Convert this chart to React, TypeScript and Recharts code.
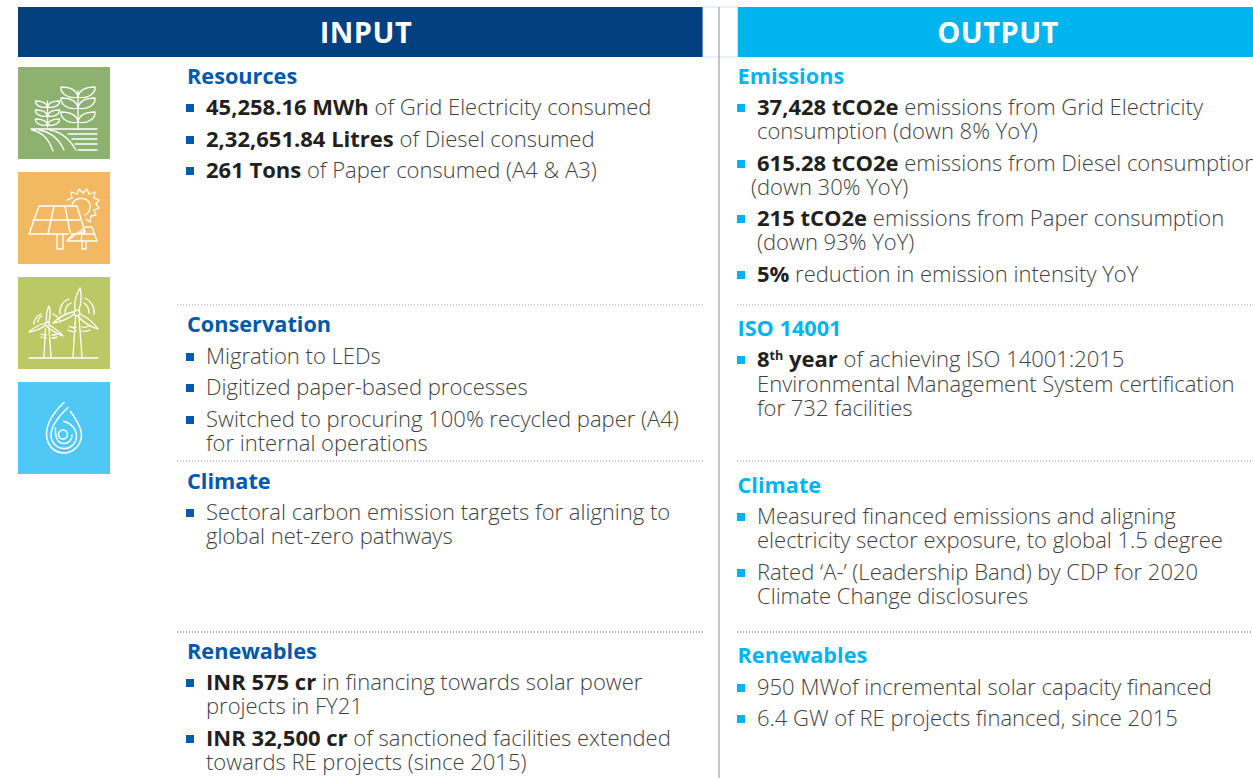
import React from "react";
import { ScatterChart, Scatter, XAxis, YAxis, ReferenceArea, ReferenceLine } from "recharts";

const FONT = "'Open Sans', sans-serif";
const NAVY = "#03407f";
const CYAN = "#00b5ef";
const BLUE = "#0059a9";
const BODY = "#3f3f3f";
const DARK = "#231f20";

const headerTitles = [
  { x: 366, y: 43, text: "INPUT" },
  { x: 998, y: 43, text: "OUTPUT" },
];
const headerBands = [
  { x1: 18, x2: 703, fill: NAVY },
  { x1: 737.5, x2: 1253, fill: CYAN },
];
const iconTiles = [
  { y: 67, kind: "wheat", fill: "#8db16f" },
  { y: 172, kind: "solar", fill: "#f3b862" },
  { y: 277, kind: "wind", fill: "#bac966" },
  { y: 382, kind: "water", fill: "#4fc8f6" },
];
const dottedRules = [
  { x1: 177, x2: 703, y: 305, stroke: "#999" },
  { x1: 737, x2: 1253, y: 305, stroke: "#999" },
  { x1: 177, x2: 703, y: 461, stroke: "#888" },
  { x1: 737, x2: 1253, y: 461, stroke: "#888" },
  { x1: 177, x2: 703, y: 632, stroke: "#555" },
  { x1: 737, x2: 1253, y: 632, stroke: "#555" },
];
const leftHeadings = [
  { x: 187, y: 84, text: "Resources" },
  { x: 187, y: 332, text: "Conservation" },
  { x: 187, y: 489, text: "Climate" },
  { x: 187, y: 659, text: "Renewables" },
];
const rightHeadings = [
  { x: 737.5, y: 84, text: "Emissions" },
  { x: 737.5, y: 336, text: "ISO 14001" },
  { x: 737.5, y: 493, text: "Climate" },
  { x: 737.5, y: 663, text: "Renewables" },
];
type Row = { x: number; y: number; bold?: string; sup?: string; after?: string; rest?: string; bullet?: boolean };
const leftRows: Row[] = [
  { x: 206, y: 115, bold: "45,258.16 MWh", rest: " of Grid Electricity consumed", bullet: true },
  { x: 206, y: 147, bold: "2,32,651.84 Litres", rest: " of Diesel consumed", bullet: true },
  { x: 206, y: 178, bold: "261 Tons", rest: " of Paper consumed (A4 & A3)", bullet: true },
  { x: 206, y: 364, rest: "Migration to LEDs", bullet: true },
  { x: 206, y: 395, rest: "Digitized paper-based processes", bullet: true },
  { x: 206, y: 427, rest: "Switched to procuring 100% recycled paper (A4)", bullet: true },
  { x: 206, y: 451, rest: "for internal operations" },
  { x: 206, y: 520, rest: "Sectoral carbon emission targets for aligning to", bullet: true },
  { x: 206, y: 544, rest: "global net-zero pathways" },
  { x: 206, y: 690, bold: "INR 575 cr", rest: " in financing towards solar power", bullet: true },
  { x: 206, y: 714, rest: "projects in FY21" },
  { x: 206, y: 746, bold: "INR 32,500 cr", rest: " of sanctioned facilities extended", bullet: true },
  { x: 206, y: 770, rest: "towards RE projects (since 2015)" },
];
const rightRows: Row[] = [
  { x: 757, y: 115, bold: "37,428 tCO2e", rest: " emissions from Grid Electricity", bullet: true },
  { x: 757, y: 139, rest: "consumption (down 8% YoY)" },
  { x: 757, y: 171, bold: "615.28 tCO2e", rest: " emissions from Diesel consumption", bullet: true },
  { x: 751, y: 195, rest: "(down 30% YoY)" },
  { x: 757, y: 226, bold: "215 tCO2e", rest: " emissions from Paper consumption", bullet: true },
  { x: 757, y: 250, rest: "(down 93% YoY)" },
  { x: 757, y: 282, bold: "5%", rest: " reduction in emission intensity YoY", bullet: true },
  { x: 757, y: 367, bold: "8", sup: "th", after: " year", rest: " of achieving ISO 14001:2015", bullet: true },
  { x: 757, y: 392, rest: "Environmental Management System certification" },
  { x: 757, y: 416, rest: "for 732 facilities" },
  { x: 757, y: 524, rest: "Measured financed emissions and aligning", bullet: true },
  { x: 757, y: 548, rest: "electricity sector exposure, to global 1.5 degree" },
  { x: 757, y: 580, rest: "Rated ‘A-’ (Leadership Band) by CDP for 2020", bullet: true },
  { x: 757, y: 604, rest: "Climate Change disclosures" },
  { x: 757, y: 695, rest: "950 MWof incremental solar capacity financed", bullet: true },
  { x: 757, y: 726, rest: "6.4 GW of RE projects financed, since 2015", bullet: true },
];

const ink = { fill: "none", stroke: "#fff", strokeWidth: 1.3, strokeLinecap: "round" as const, strokeLinejoin: "round" as const };

function Leaf({ x, y, dx, dy }: { x: number; y: number; dx: number; dy: number }) {
  const d = `M${x} ${y}C${x + dx * 0.1} ${y - dy * 0.9} ${x + dx * 0.6} ${y - dy * 1.0} ${x + dx} ${y - dy}C${x + dx * 1.05} ${y - dy * 0.3} ${x + dx * 0.5} ${y + dy * 0.25} ${x} ${y}Z`;
  return <path d={d} {...ink} />;
}
function Plant({ x, top, bottom, w, h, rows }: { x: number; top: number; bottom: number; w: number; h: number; rows: number[] }) {
  return (
    <g>
      <path d={`M${x} ${top}V${bottom}`} {...ink} />
      {rows.map((r) => (
        <g key={r}>
          <Leaf x={x} y={r} dx={w} dy={h} />
          <Leaf x={x} y={r} dx={-w} dy={h} />
        </g>
      ))}
    </g>
  );
}
function Wheat() {
  return (
    <g>
      <Plant x={60} top={24} bottom={62} w={17} h={10} rows={[30, 41, 55]} />
      <Plant x={29.5} top={34} bottom={60} w={12} h={6} rows={[40, 49, 58]} />
      <path d="M13 62H79M50 67H79M54 72H79M57 77H79M60 83H79" {...ink} />
      <path d="M14 63C24 65 31 72 35 84M21 63C33 65 41 72 46 83M32 63C44 65 52 73 58 83" {...ink} />
    </g>
  );
}
function Solar() {
  return (
    <g>
      <path d="M49 28L54 26L53 20L59 22L61 17L65 21L69 17L71 22L77 20L76 26L81 28L78 32L81 36L76 38L78 43L73 44L72 50L68 47" {...ink} />
      <path d="M54 33C56 26 64 25 69 28C74 32 73 40 67 43" {...ink} />
      <path d="M11 62L21 34H59L67 60L56 62M15 48H62M36 34L30 62M47 34L52 60M11 62H50" {...ink} strokeWidth={1.5} />
      <path d="M39 62V77H45V62" {...ink} />
      <path d="M49 69L55 62M68 55H74L79 69H49ZM53 62H76M66 56V62M64 62L63 69M64 69V77M68 69V77H64" {...ink} />
    </g>
  );
}
function Wind() {
  return (
    <g>
      <path d="M11 81H80" {...ink} />
      <path d="M55 80L57.5 40M64 80L61 40" {...ink} />
      <circle cx={59} cy={36} r={2.8} {...ink} />
      <path d="M57 33C56 25 59 16 62 11C64 19 63 27 61 33" {...ink} />
      <path d="M56.5 37C50 42 43 45 35 46C41 40 49 36 56.5 34.5" {...ink} />
      <path d="M62 37C68 40 76 46 80 52C73 50 65 45 60 39" {...ink} />
      <path d="M42 37C41 30 45 24 51 22M47 36C47 31 49 28 53 26M76 37C77 30 73 24 67 21M71 36C71 31 69 28 66 26" {...ink} />
      <path d="M51 49C54 51 57 51 58 50M50 53C53 55 57 55 58 54M64 50C67 51 69 50 71 49M64 54C67 55 70 54 72 53" {...ink} />
      <path d="M26 80L27.5 51M33 80L31 51" {...ink} />
      <circle cx={29.5} cy={47} r={2} {...ink} />
      <path d="M28.5 45C28 39 29 33 31 29C33 34 32 40 31 45" {...ink} />
      <path d="M27.5 48C23 52 17 54 11 55C15 51 21 48 27.5 46" {...ink} />
      <path d="M31.5 48C36 51 42 55 45 59C40 57 34 54 29.5 50" {...ink} />
      <path d="M16 47C16 42 19 39 23 37M20 45C20 42 22 40 24 39M42 45C42 42 39 39 35 37" {...ink} />
      <path d="M23 57C26 58 28 58 28 58M23 60C26 61 28 61 28 61M34 58C36 58 38 58 39 57M34 61C36 61 38 61 39 60" {...ink} />
    </g>
  );
}
function Water() {
  return (
    <g>
      <path d="M52.5 29.5C58 37 63.5 46 63.5 53C63.5 63 55 71 46 71C36 71 28.5 63 28.5 52C28.5 41 36 30 46 20.5" {...ink} strokeWidth={1.5} />
      <path d="M50 25.5C41 34 33 44 33 53C33 61 39 66.5 46 66.5C53 66.5 58.5 61 58.5 54C58.5 47 53 41 46 39.5" {...ink} strokeWidth={1.5} />
      <path d="M37.5 46C37 52 38 61.5 46 61.5C51 61.5 54 57.5 54 53" {...ink} strokeWidth={1.5} />
      <circle cx={45} cy={52.5} r={4.5} {...ink} strokeWidth={1.5} />
    </g>
  );
}
const ICONS: Record<string, () => React.ReactElement> = { wheat: Wheat, solar: Solar, wind: Wind, water: Water };

const IconShape = (p: any) => {
  const Icon = ICONS[p.payload.kind];
  return (
    <g transform={`translate(${p.cx - 46},${p.cy - 46})`}>
      <Icon />
    </g>
  );
};
const headingShape = (color: string) => (p: any) => (
  <text x={p.cx} y={p.cy} fontFamily={FONT} fontWeight={700} fontSize={21.7} fill={color}>
    {p.payload.text}
  </text>
);
const TitleShape = (p: any) => (
  <text x={p.cx} y={p.cy} fontFamily={FONT} fontWeight={700} fontSize={29} letterSpacing={0.5} fill="#fff" textAnchor="middle">
    {p.payload.text}
  </text>
);
const rowShape = (color: string) => (p: any) => {
  const r: Row = p.payload;
  return (
    <g>
      {r.bullet && <rect x={p.cx - 20} y={p.cy - 11} width={8} height={8} fill={color} />}
      <text x={p.cx} y={p.cy} fontFamily={FONT} fontSize={22} fontWeight={300} fill={BODY} style={{ whiteSpace: "pre" }}>
        {r.bold && <tspan fontWeight={700} fill={DARK}>{r.bold}</tspan>}
        {r.sup && <tspan fontWeight={700} fontSize={12.5} dy={-7} fill={DARK}>{r.sup}</tspan>}
        {r.after && <tspan fontWeight={700} dy={7} fill={DARK}>{r.after}</tspan>}
        {r.rest && <tspan>{r.rest}</tspan>}
      </text>
    </g>
  );
};
const iconCentres = iconTiles.map((t) => ({ x: 64, y: t.y + 46, kind: t.kind }));

export default function App() {
  return (
    <div style={{ position: "absolute", left: 0, top: 0, width: 1253, height: 778, background: "#fff" }}>
      <ScatterChart width={1253} height={778} margin={{ top: 0, right: 0, bottom: 0, left: 0 }}>
        <XAxis type="number" dataKey="x" domain={[0, 1253]} hide />
        <YAxis type="number" dataKey="y" domain={[0, 778]} reversed hide />
        {headerBands.map((b) => (
          <ReferenceArea key={b.x1} x1={b.x1} x2={b.x2} y1={7} y2={57} fill={b.fill} fillOpacity={1} stroke="none" />
        ))}
        <ReferenceArea x1={703} x2={737.5} y1={7} y2={57} fill="#fff" fillOpacity={1} stroke="#cfe4f4" strokeWidth={1} />
        {iconTiles.map((t) => (
          <ReferenceArea key={t.y} x1={18} x2={110} y1={t.y} y2={t.y + 92} fill={t.fill} fillOpacity={1} stroke="none" />
        ))}
        <ReferenceLine segment={[{ x: 719, y: 7 }, { x: 719, y: 778 }]} stroke="#b3b3b3" strokeWidth={1.5} />
        {dottedRules.map((d) => (
          <ReferenceLine
            key={`${d.x1}-${d.y}`}
            segment={[{ x: d.x1, y: d.y }, { x: d.x2, y: d.y }]}
            stroke={d.stroke}
            strokeWidth={1}
            strokeDasharray="1 2"
          />
        ))}
        <Scatter data={iconCentres} shape={IconShape} isAnimationActive={false} />
        <Scatter data={headerTitles} shape={TitleShape} isAnimationActive={false} />
        <Scatter data={leftHeadings} shape={headingShape(BLUE)} isAnimationActive={false} />
        <Scatter data={rightHeadings} shape={headingShape(CYAN)} isAnimationActive={false} />
        <Scatter data={leftRows} shape={rowShape(BLUE)} isAnimationActive={false} />
        <Scatter data={rightRows} shape={rowShape(CYAN)} isAnimationActive={false} />
      </ScatterChart>
    </div>
  );
}
